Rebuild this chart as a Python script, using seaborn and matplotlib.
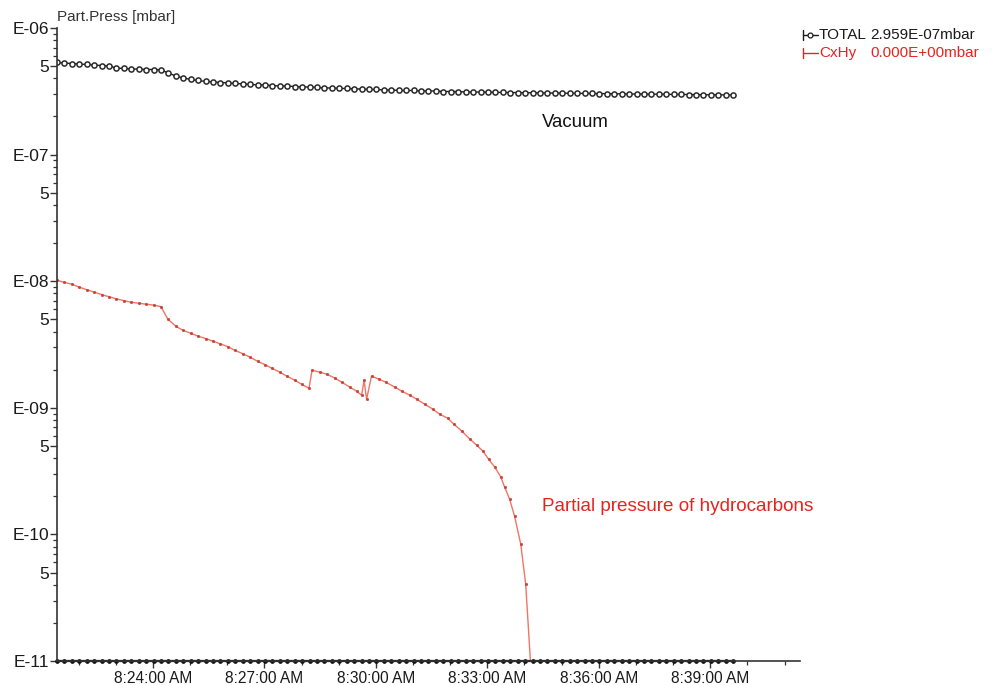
import numpy as np
import pandas as pd
import matplotlib
matplotlib.use("Agg")
import matplotlib.pyplot as plt
import seaborn as sns
from matplotlib.ticker import FixedLocator, FixedFormatter, NullFormatter
from matplotlib.lines import Line2D

# ---------------- data ----------------
# time axis: minutes after 8:00 AM; window 8:21:25 .. 8:41:25
window_start_min = 21 + 25 / 60
window_len_min = 20

# TOTAL pressure, sampled every 12 s from 8:21:25 (values in 1e-7 mbar)
total_t_sec = list(range(0, 1093, 12))
total_p_e7 = [5.34, 5.29, 5.24, 5.19, 5.15, 5.10, 5.05, 5.01, 4.83, 4.79, 4.74, 4.74, 4.70, 4.70, 4.66,
              4.41, 4.17, 4.03, 3.92, 3.85, 3.78, 3.75, 3.71, 3.68,
              3.65, 3.61, 3.58, 3.55, 3.55, 3.51, 3.48, 3.48, 3.45, 3.42, 3.42, 3.39, 3.36, 3.36, 3.33, 3.33,
              3.30, 3.30, 3.27, 3.27,
              3.24, 3.24, 3.21, 3.21, 3.21, 3.18, 3.18, 3.18, 3.15, 3.15, 3.15, 3.12, 3.12, 3.12, 3.12, 3.10, 3.10,
              3.09, 3.09, 3.08, 3.08, 3.07, 3.07, 3.06, 3.06, 3.05, 3.05, 3.04, 3.04, 3.03, 3.03, 3.02,
              3.02, 3.01, 3.01, 3.01, 3.00, 3.00, 2.99, 2.99, 2.99, 2.98, 2.98, 2.97, 2.97, 2.97, 2.96, 2.96]

# CxHy partial pressure (seconds after 8:21:25, values in 1e-8 mbar)
cxhy_t_sec = [0, 11, 24, 36, 48, 60, 73, 84, 95, 108,
              119, 132, 144, 157, 168, 179, 192, 203, 216, 228,
              241, 252, 263, 276, 287, 300, 312, 324, 336, 347,
              360, 371, 384, 395, 407, 412, 425, 436, 449, 460,
              473, 484, 492, 496, 500, 508, 520, 531, 546, 557,
              570, 581, 594, 607, 618, 631, 641, 654, 667, 678,
              688, 697, 707, 717, 723, 731, 739, 749, 757, 765]
cxhy_p_e8 = [1.018, 0.982, 0.947, 0.897, 0.857, 0.819, 0.782, 0.754, 0.727, 0.702,
             0.683, 0.670, 0.658, 0.646, 0.629, 0.501, 0.441, 0.410, 0.388, 0.368,
             0.351, 0.336, 0.321, 0.304, 0.285, 0.2675, 0.251, 0.233, 0.219, 0.2055,
             0.191, 0.178, 0.165, 0.1536, 0.1428, 0.198, 0.191, 0.1842, 0.1713, 0.1593,
             0.1454, 0.1352, 0.1257, 0.165, 0.1169, 0.178, 0.1682, 0.1593, 0.1454, 0.1352,
             0.1257, 0.1169, 0.1067, 0.0975, 0.0890, 0.0828, 0.0742, 0.0653, 0.0565, 0.0506,
             0.0454, 0.0393, 0.0340, 0.0283, 0.0236, 0.0190, 0.01393, 0.00837, 0.00404, 0.00093]

detection_floor = 1e-11

x_major_min = [24, 27, 30, 33, 36, 39]
x_major_labels = ["8:24:00 AM", "8:27:00 AM", "8:30:00 AM", "8:33:00 AM", "8:36:00 AM", "8:39:00 AM"]
x_minor_min = list(range(22, 42))

y_major = [1e-11, 5e-11, 1e-10, 5e-10, 1e-9, 5e-9, 1e-8, 5e-8, 1e-7, 5e-7, 1e-6]
y_major_labels = ["E-11", "5", "E-10", "5", "E-09", "5", "E-08", "5", "E-07", "5", "E-06"]
y_minor_mult = [2, 3, 4, 6, 7, 8, 9]
y_decades = [1e-11, 1e-10, 1e-9, 1e-8, 1e-7]

legend_names = ["TOTAL", "CxHy"]
legend_values = ["2.959E-07mbar", "0.000E+00mbar"]
legend_colors = ["#1a1a1a", "#e8231e"]

# ---------------- frames ----------------
total_df = pd.DataFrame({
    "t": [window_start_min + s / 60 for s in total_t_sec],
    "p": [v * 1e-7 for v in total_p_e7],
})
total_df["floor"] = detection_floor
cxhy_df = pd.DataFrame({
    "t": [window_start_min + s / 60 for s in cxhy_t_sec],
    "p": [v * 1e-8 for v in cxhy_p_e8],
})

# ---------------- plot ----------------
sns.set_theme(style="white")
plt.rcParams["font.family"] = ["Liberation Sans", "DejaVu Sans"]

fig = plt.figure(figsize=(9.98, 6.85), dpi=100)
ax = fig.add_axes([57 / 998, 24 / 685, 743 / 998, 633 / 685])
ax.set_yscale("log")

sns.lineplot(data=total_df, x="t", y="p", ax=ax, color="#1a1a1a", lw=1.0,
             marker="o", markersize=3.7, markerfacecolor="white",
             markeredgecolor="#2a2a2a", markeredgewidth=1.1, sort=False, estimator=None)
sns.lineplot(data=cxhy_df, x="t", y="p", ax=ax, color="#f07565", lw=1.0,
             marker="o", markersize=2.0, markerfacecolor="#c8403a",
             markeredgecolor="#c8403a", markeredgewidth=0.2, sort=False, estimator=None)
sns.lineplot(data=total_df, x="t", y="floor", ax=ax, color="#111111", lw=1.6,
             marker="o", markersize=2.6, markerfacecolor="#111111",
             markeredgecolor="#111111", sort=False, estimator=None, clip_on=False)

ax.set_xlim(window_start_min, window_start_min + window_len_min)
ax.set_ylim(1e-11, 1e-6)

ax.xaxis.set_major_locator(FixedLocator(x_major_min))
ax.xaxis.set_major_formatter(FixedFormatter(x_major_labels))
ax.xaxis.set_minor_locator(FixedLocator(x_minor_min))
ax.xaxis.set_minor_formatter(NullFormatter())

ax.yaxis.set_major_locator(FixedLocator(y_major))
ax.yaxis.set_major_formatter(FixedFormatter(y_major_labels))
ax.yaxis.set_minor_locator(FixedLocator([d * m for d in y_decades for m in y_minor_mult]))
ax.yaxis.set_minor_formatter(NullFormatter())

ax.set_xlabel("")
ax.set_ylabel("")
for side in ["top", "right"]:
    ax.spines[side].set_visible(False)
for side in ["left", "bottom"]:
    ax.spines[side].set_color("#333333")
    ax.spines[side].set_linewidth(1.2)

ax.tick_params(axis="y", which="major", direction="out", length=5, width=1, color="#333333",
               labelsize=12.5, labelcolor="#1a1a1a", pad=0.5, left=True)
ax.tick_params(axis="y", which="minor", direction="out", length=3, width=0.9, color="#333333", left=True)
ax.tick_params(axis="x", which="major", direction="out", length=5, width=1, color="#333333",
               labelsize=11.2, labelcolor="#1a1a1a", pad=2, bottom=True)
ax.tick_params(axis="x", which="minor", direction="out", length=3, width=0.9, color="#333333", bottom=True)
ax.grid(False)

fig.text(57 / 998, 1 - 17 / 685, "Part.Press [mbar]", fontsize=11, color="#333333",
         ha="left", va="center")

ax.text(0.698, 0.8515, "Vacuum", transform=ax.transAxes, fontsize=13.4, color="#111111",
        ha="center", va="center")
ax.text(0.653, 0.2433, "Partial pressure of hydrocarbons", transform=ax.transAxes,
        fontsize=13.6, color="#e8231e", ha="left", va="center")

# legend readout (top right)
rows_y = [1 - 35 / 685, 1 - 53 / 685]
for i, (name, val, col) in enumerate(zip(legend_names, legend_values, legend_colors)):
    y = rows_y[i]
    key_x = [803 / 998, 818 / 998]
    fig.add_artist(Line2D(key_x, [y, y], color=col, lw=1.0))
    fig.add_artist(Line2D([803 / 998, 803 / 998], [y - 5 / 685, y + 5 / 685], color=col, lw=1.0))
    if i == 0:
        fig.add_artist(Line2D([810 / 998], [y], color=col, marker="o", markersize=3.5,
                              markerfacecolor="white", markeredgewidth=0.9, lw=0))
    fig.text(819 / 998, y, name, fontsize=11, color=col, ha="left", va="center")
    fig.text(870 / 998, y, val, fontsize=11, color=col, ha="left", va="center")

fig.savefig("out.png", dpi=100)
